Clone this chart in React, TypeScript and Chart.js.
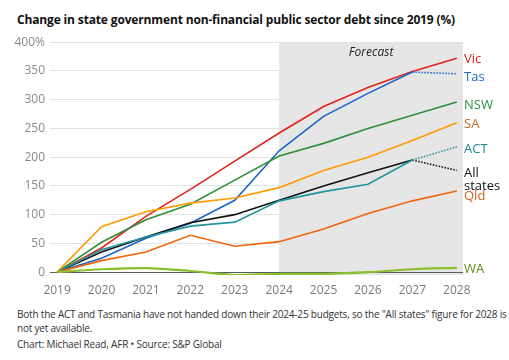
import React, { useEffect, useRef } from "react";
import { Chart, registerables } from "chart.js";
Chart.register(...registerables);

const years = [2019, 2020, 2021, 2022, 2023, 2024, 2025, 2026, 2027, 2028];
const vic = [0, 42, 97, 144, 193, 242, 288, 321, 349, 372];
const tas = [0, 24, 59, 85, 125, 211, 271, 311, 348, 345];
const nsw = [0, 52, 91, 118, 160, 202, 224, 250, 273, 296];
const sa = [0, 79, 105, 120, 129, 147, 177, 200, 229, 260];
const act = [0, 39, 61, 80, 87, 124, 140, 153, 195, 218];
const allStates = [0, 35, 61, 86, 100, 125, 150, 173, 195, 177];
const qld = [0, 20, 35, 64, 45, 53, 75, 102, 124, 141];
const wa = [0, 5, 7, 2, -5, -3, -3, 0, 5, 7.5];
const yTicks = [0, 50, 100, 150, 200, 250, 300, 350, 400];
const forecastStart = 2024;
const forecastLabel = "Forecast";
const title = "Change in state government non-financial public sector debt since 2019 (%)";
const noteLines = [
  "Both the ACT and Tasmania have not handed down their 2024-25 budgets, so the \"All states\" figure for 2028 is",
  "not yet available.",
];
const source = "Chart: Michael Read, AFR \u2022 Source: S&P Global";

const FONT = "'Open Sans', 'Noto Sans', sans-serif";

type S = { name: string[]; data: number[]; line: string; label: string; dotted: boolean; width: number; dy: number; tension: number };
const series: S[] = [
  { name: ["WA"], data: wa, line: "#8cbf2e", label: "#5e8c1a", dotted: false, width: 2.2, dy: 1, tension: 0.3 },
  { name: ["Qld"], data: qld, line: "#f0650f", label: "#d35c16", dotted: false, width: 1.6, dy: 5, tension: 0 },
  { name: ["ACT"], data: act, line: "#23959c", label: "#1e8a90", dotted: true, width: 1.6, dy: 2, tension: 0 },
  { name: ["SA"], data: sa, line: "#ff9a00", label: "#c8661a", dotted: false, width: 1.6, dy: 2, tension: 0 },
  { name: ["All", "states"], data: allStates, line: "#111111", label: "#111111", dotted: true, width: 1.6, dy: 3, tension: 0 },
  { name: ["NSW"], data: nsw, line: "#2f8f3a", label: "#2f8f3a", dotted: false, width: 1.6, dy: 3, tension: 0 },
  { name: ["Tas"], data: tas, line: "#1a66cc", label: "#1a66cc", dotted: true, width: 1.6, dy: 3, tension: 0 },
  { name: ["Vic"], data: vic, line: "#e2231a", label: "#e2231a", dotted: false, width: 1.6, dy: 1, tension: 0 },
];

const bandPlugin = {
  id: "band",
  beforeDraw(chart: any) {
    const { ctx, chartArea, scales } = chart;
    const x0 = scales.x.getPixelForValue(forecastStart);
    ctx.save();
    ctx.fillStyle = "#e6e6e6";
    ctx.fillRect(x0, chartArea.top, chartArea.right - x0, chartArea.bottom - chartArea.top);
    ctx.fillStyle = "#222";
    ctx.font = `italic 12px ${FONT}`;
    ctx.textAlign = "center";
    ctx.textBaseline = "middle";
    ctx.fillText(forecastLabel, (x0 + chartArea.right) / 2, chartArea.top + 10);
    ctx.restore();
  },
};

const labelPlugin = {
  id: "endLabels",
  afterDatasetsDraw(chart: any) {
    const { ctx, chartArea, scales } = chart;
    ctx.save();
    ctx.font = `13px ${FONT}`;
    ctx.textAlign = "left";
    ctx.textBaseline = "middle";
    series.forEach((s) => {
      const y = scales.y.getPixelForValue(s.data[s.data.length - 1]) + s.dy;
      ctx.fillStyle = s.label;
      s.name.forEach((t, i) => ctx.fillText(t, chartArea.right + 1, y + i * 13));
    });
    ctx.restore();
  },
};

export default function App() {
  const ref = useRef<HTMLCanvasElement>(null);
  useEffect(() => {
    const chart = new Chart(ref.current!, {
      type: "line",
      data: {
        datasets: series.map((s) => ({
          label: s.name.join(" "),
          data: s.data.map((v, i) => ({ x: years[i], y: v })),
          borderColor: s.line,
          borderWidth: s.width,
          pointRadius: 0,
          tension: s.tension,
          fill: false,
          segment: {
            borderDash: (c: any) => (s.dotted && c.p1DataIndex === years.length - 1 ? [1.5, 1.5] : undefined),
          },
        })),
      },
      options: {
        animation: false,
        responsive: false,
        maintainAspectRatio: false,
        layout: { padding: { top: 11, right: 46, left: 0, bottom: 0 } },
        plugins: { legend: { display: false }, tooltip: { enabled: false } },
        scales: {
          x: {
            type: "linear",
            min: 2018.84,
            max: 2028.14,
            afterBuildTicks: (sc: any) => { sc.ticks = years.map((v) => ({ value: v })); },
            afterFit: (sc: any) => { sc.height = 25; },
            grid: { display: false },
            border: { display: false },
            ticks: { color: "#7a7a7a", font: { family: FONT, size: 12 }, padding: 0, maxRotation: 0, callback: (v: any) => String(v) },
          },
          y: {
            min: -5,
            max: 400,
            afterBuildTicks: (sc: any) => { sc.ticks = yTicks.map((v) => ({ value: v })); },
            afterFit: (sc: any) => { sc.width = 50; },
            grid: {
              color: (c: any) => (c.tick && c.tick.value === 0 ? "#5a5a5a" : "#e2e2e2"),
              lineWidth: 1,
              tickLength: 0,
              drawTicks: false,
            },
            border: { display: false },
            ticks: {
              color: "#8a8a8a",
              font: { family: FONT, size: 12 },
              padding: 5,
              callback: (v: any) => (v === 400 ? "400%" : String(v)),
            },
          },
        },
      },
      plugins: [bandPlugin, labelPlugin],
    } as any);
    return () => chart.destroy();
  }, []);

  return (
    <div style={{ position: "fixed", left: 0, top: 0, width: 509, height: 360, background: "#fff", fontFamily: FONT, overflow: "hidden" }}>
      <div style={{ position: "absolute", left: 17, top: 11, fontWeight: 700, fontSize: 12, color: "#111", whiteSpace: "nowrap", letterSpacing: -0.15 }}>{title}</div>
      <canvas ref={ref} width={509} height={270} style={{ position: "absolute", left: 0, top: 30, width: 509, height: 270 }} />
      <div style={{ position: "absolute", left: 17, top: 307, fontSize: 10, color: "#333", lineHeight: "14px", whiteSpace: "nowrap", letterSpacing: -0.2 }}>
        {noteLines.map((l, i) => (<div key={i}>{l}</div>))}
        <div style={{ marginTop: 2 }}>{source}</div>
      </div>
    </div>
  );
}
